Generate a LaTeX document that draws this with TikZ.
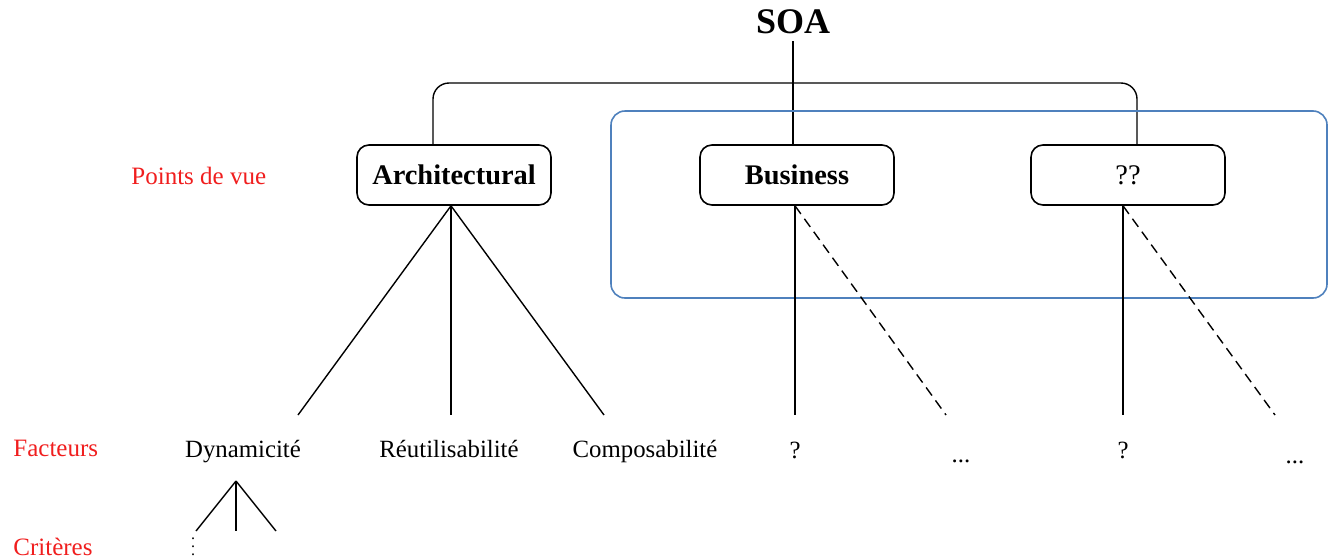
\documentclass[tikz,border=0pt]{standalone}
\usepackage{fontspec}
\setmainfont{Liberation Serif}
\usetikzlibrary{positioning}
\definecolor{vueblue}{RGB}{79,129,189}
\definecolor{lblred}{RGB}{240,30,30}

\begin{document}
\begin{tikzpicture}[x=0.5pt, y=-0.5pt,
      vue/.style={draw, rounded corners=6pt, line width=0.8pt,
                  minimum width=97pt, minimum height=30pt,
                  font=\fontsize{14.2}{16}\selectfont\bfseries},
      fac/.style={anchor=base, font=\fontsize{12.4}{14}\selectfont},
      lvl/.style={anchor=west, inner sep=0pt, text=lblred,
                  font=\fontsize{12.5}{14}\selectfont},
      lnk/.style={line width=0.7pt},
      opt/.style={lnk, dash pattern=on 5pt off 3pt}]
    \useasboundingbox (0,0) rectangle (1331,558);
    % root and points of view
    \node[font=\fontsize{18}{20}\selectfont\bfseries] (soa) at (793,22) {SOA};
    \node[vue] (arch) at (454,175) {Architectural};
    \node[vue] (bus) at (797,175) {Business};
    \node[vue, font=\fontsize{14.2}{16}\selectfont] (qq) at (1128,175) {??};
    \coordinate (hub) at (793,83);
    \draw[lnk] (soa.south) -- (soa.south |- bus.north);
    \draw[lnk, rounded corners=8pt] ([xshift=-10.5pt]arch.north) |- (hub)
      -| ([xshift=4.5pt]qq.north);
    \draw[vueblue, line width=0.8pt, rounded corners=7pt] (611,111) rectangle (1327,298);
    % level labels
    \node[lvl] (lvue) at (131,176) {Points de vue};
    \node[lvl] (lfac) at (13,448) {Facteurs};
    \node[lvl] (lcrit) at (13,547) {Critères};
    % factors
    \node[fac] (dyn) at (243,457) {Dynamicité};
    \node[fac] (reu) at (449,457) {Réutilisabilité};
    \node[fac] (comp) at (645,457) {Composabilité};
    \node[fac] (bq) at (795,458) {?};
    \node[fac] (bdots) at (961,462) {...};
    \node[fac] (qq1) at (1123,458) {?};
    \node[fac] (qqdots) at (1295,463) {...};
    \coordinate (dynE) at (298,415);
    \coordinate (reuE) at (451,415);
    \coordinate (compE) at (604,415);
    \coordinate (bqE) at (795,415);
    \coordinate (bdotsE) at (946,415);
    \coordinate (qq1E) at (1123,415);
    \coordinate (qqdotsE) at (1275,415);
    \draw[lnk] ([xshift=-1.5pt]arch.south) -- (dynE);
    \draw[lnk] ([xshift=-1.5pt]arch.south) -- (reuE);
    \draw[lnk] ([xshift=-1.5pt]arch.south) -- (compE);
    \draw[lnk] ([xshift=-1pt]bus.south) -- (bqE);
    \draw[opt] ([xshift=-1pt]bus.south) -- (bdotsE);
    \draw[lnk] ([xshift=-2.5pt]qq.south) -- (qq1E);
    \draw[opt] ([xshift=-2.5pt]qq.south) -- (qqdotsE);
    % criteria under Dynamicite
    \coordinate (dynA) at (236,481);
    \coordinate (crit1) at (196,531);
    \coordinate (crit2) at (236,531);
    \coordinate (crit3) at (276,531);
    \foreach \c in {crit1,crit2,crit3}
      \draw[lnk] (dynA) -- (\c);
    \node[anchor=south, inner sep=0pt, font=\fontsize{8}{9}\selectfont] (cdots)
      at (193,556) {$\vdots$};
  \end{tikzpicture}
\end{document}
